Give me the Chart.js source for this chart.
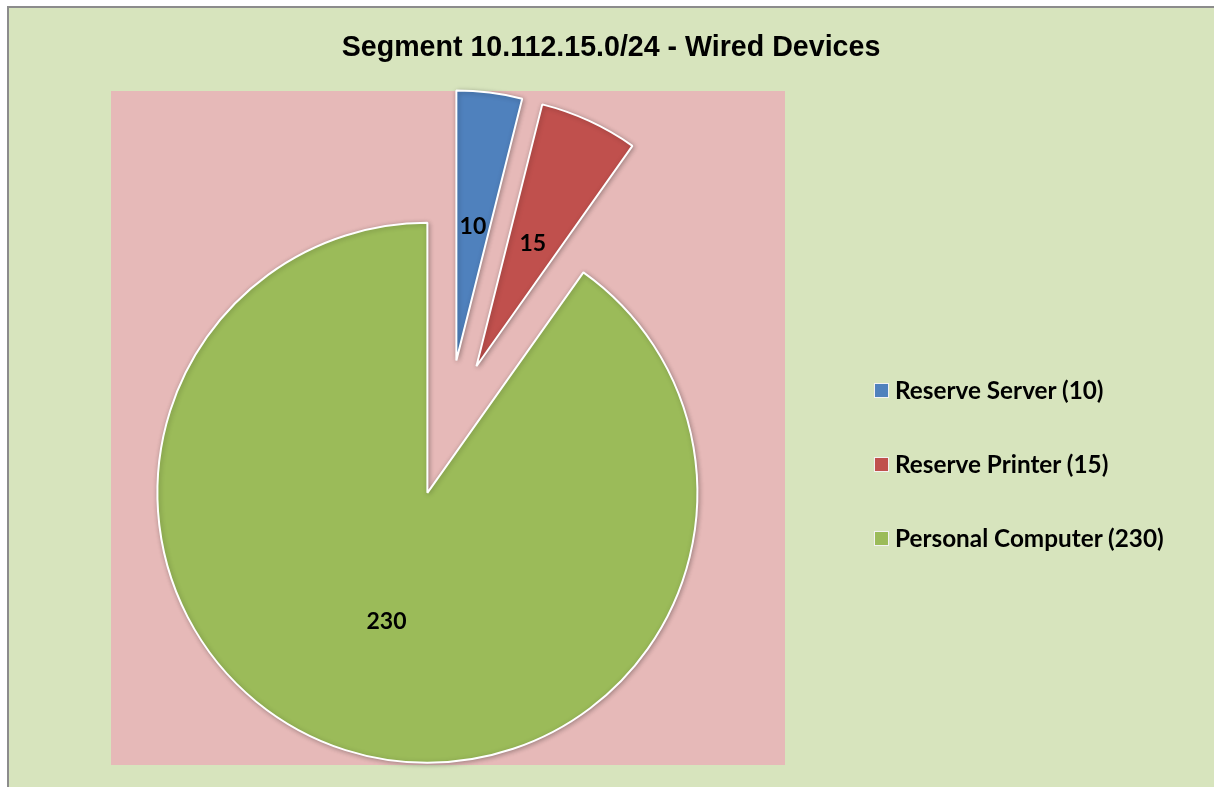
<!DOCTYPE html>
<html>
<head>
<meta charset="utf-8">
<title>Wired Devices</title>
<script src="https://cdn.jsdelivr.net/npm/chart.js@4.4.0/dist/chart.umd.min.js"></script>
<style>
  html, body { margin: 0; padding: 0; background: #ffffff; overflow: hidden; }
  #frame {
    position: absolute; left: 7px; top: 6px; width: 1207px; height: 781px;
    background: #d7e4bd; box-sizing: border-box;
    border-left: 2px solid #8c8c8c; border-top: 2px solid #8c8c8c;
  }
  #chart { position: absolute; left: 0; top: 0; }
  #title {
    position: absolute; left: 311px; width: 600px; top: 30px; line-height: 32px;
    text-align: center; font: bold 28.6px "Liberation Sans", Arial, sans-serif; color: #000;
  }
  .legend-item {
    position: absolute; left: 874px; height: 30px; line-height: 30px;
    font: bold 24.3px Lato, "Open Sans", sans-serif; color: #000; white-space: nowrap;
  }
  .legend-item span.box {
    display: inline-block; width: 13px; height: 13px; margin-right: 6px;
    border: 1px solid #f2f2f2; vertical-align: 1px;
  }
</style>
</head>
<body>
<div id="frame"></div>
<canvas id="chart" width="1214" height="787"></canvas>
<div id="title">Segment 10.112.15.0/24 - Wired Devices</div>
<div id="legend"></div>
<script>
// device counts on the wired segment
const categories = ['Reserve Server', 'Reserve Printer', 'Personal Computer'];
const counts = [10, 15, 230];
const sliceColors = ['#4f81bd', '#c0504d', '#9bbb59'];
// how far every slice is pulled out from the centre (px)
const explode = [68, 68, 68];

const pieRadius = 270;

// each slice is moved out along its own mid angle
const explodePlugin = {
    id: 'explode',
    afterDatasetUpdate(chart, args) {
        args.meta.data.forEach((arc, i) => {
            const d = explode[i] || 0;
            const mid = (arc.startAngle + arc.endAngle) / 2;
            arc.x += Math.cos(mid) * d;
            arc.y += Math.sin(mid) * d;
        });
    }
};

// pink plot area behind the pie
const plotAreaPlugin = {
    id: 'plotArea',
    beforeDraw(chart) {
        const { ctx, chartArea: a } = chart;
        ctx.save();
        ctx.fillStyle = '#e6b9b8';
        ctx.fillRect(a.left, a.top, a.right - a.left, a.bottom - a.top);
        ctx.restore();
    }
};

// soft shadow under the slices
const shadowPlugin = {
    id: 'sliceShadow',
    beforeDatasetsDraw(chart) {
        const ctx = chart.ctx;
        ctx.save();
        ctx.shadowColor = 'rgba(0, 0, 0, 0.28)';
        ctx.shadowBlur = 5;
        ctx.shadowOffsetX = 1;
        ctx.shadowOffsetY = 1;
    },
    afterDatasetsDraw(chart) {
        chart.ctx.restore();
    }
};

// value labels halfway out on each slice
const valueLabels = {
    id: 'valueLabels',
    afterDatasetsDraw(chart) {
        const ctx = chart.ctx;
        const meta = chart.getDatasetMeta(0);
        ctx.save();
        ctx.font = 'bold 23px Lato, "Open Sans", sans-serif';
        ctx.fillStyle = '#000';
        ctx.textAlign = 'center';
        ctx.textBaseline = 'middle';
        meta.data.forEach((arc, i) => {
            const mid = (arc.startAngle + arc.endAngle) / 2;
            const r = arc.outerRadius / 2;
            ctx.fillText(String(counts[i]), arc.x + Math.cos(mid) * r, arc.y + Math.sin(mid) * r);
        });
        ctx.restore();
    }
};

new Chart(document.getElementById('chart'), {
    type: 'pie',
    data: {
        labels: categories,
        datasets: [{
            data: counts,
            backgroundColor: sliceColors,
            borderColor: '#ffffff',
            borderWidth: 2
        }]
    },
    options: {
        responsive: false,
        animation: false,
        events: [],
        radius: pieRadius,
        layout: { padding: { left: 111, top: 91, right: 429, bottom: 22 } },
        plugins: {
            legend: { display: false },
            title: { display: false },
            tooltip: { enabled: false }
        }
    },
    plugins: [plotAreaPlugin, explodePlugin, shadowPlugin, valueLabels]
});

// legend on the right
const legendEl = document.getElementById('legend');
const legendRows = [375, 449, 523];
categories.forEach((name, i) => {
    const item = document.createElement('div');
    item.className = 'legend-item';
    item.style.top = legendRows[i] + 'px';
    const box = document.createElement('span');
    box.className = 'box';
    box.style.background = sliceColors[i];
    item.appendChild(box);
    item.appendChild(document.createTextNode(name + ' (' + counts[i] + ')'));
    legendEl.appendChild(item);
});
</script>
</body>
</html>
